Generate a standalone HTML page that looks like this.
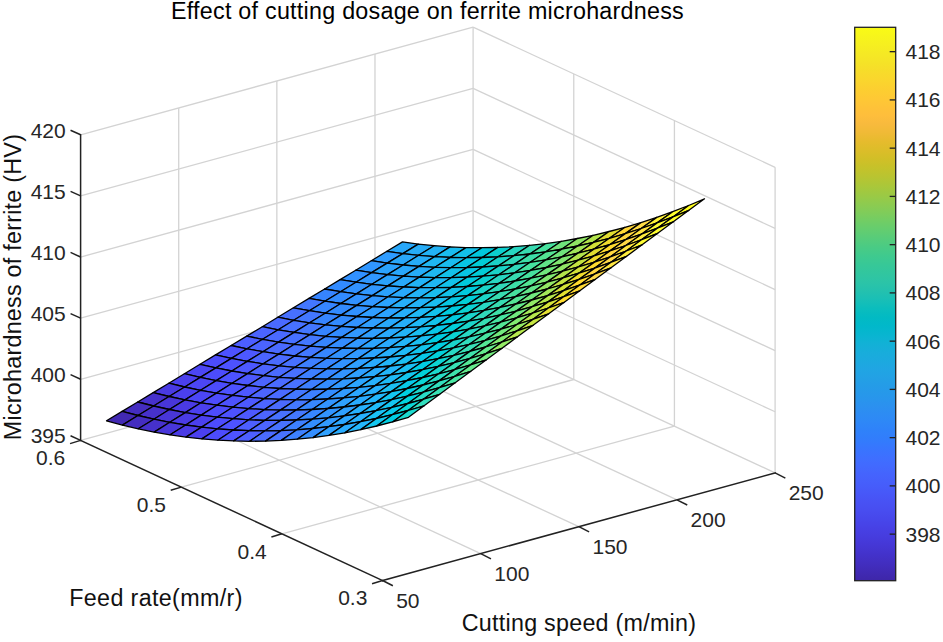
<!DOCTYPE html>
<html><head><meta charset="utf-8"><title>Effect of cutting dosage on ferrite microhardness</title>
<style>html,body{margin:0;padding:0;background:#fff;}body{width:943px;height:642px;overflow:hidden;position:relative;font-family:"Liberation Sans",sans-serif;}</style>
</head><body>
<svg width="943" height="642" viewBox="0 0 943 642" style="position:absolute;left:0;top:0">
<g stroke-linecap="butt">
<line x1="178.72" y1="413.50" x2="480.73" y2="553.60" stroke="#d3d3d3" stroke-width="1.3" />
<line x1="276.85" y1="386.60" x2="578.85" y2="526.70" stroke="#d3d3d3" stroke-width="1.3" />
<line x1="374.98" y1="359.70" x2="676.98" y2="499.80" stroke="#d3d3d3" stroke-width="1.3" />
<line x1="473.10" y1="332.80" x2="775.10" y2="472.90" stroke="#d3d3d3" stroke-width="1.3" />
<line x1="80.60" y1="440.40" x2="473.10" y2="332.80" stroke="#d3d3d3" stroke-width="1.3" />
<line x1="181.27" y1="487.10" x2="573.77" y2="379.50" stroke="#d3d3d3" stroke-width="1.3" />
<line x1="281.93" y1="533.80" x2="674.43" y2="426.20" stroke="#d3d3d3" stroke-width="1.3" />
<line x1="178.72" y1="413.50" x2="178.72" y2="107.90" stroke="#d3d3d3" stroke-width="1.3" />
<line x1="276.85" y1="386.60" x2="276.85" y2="81.00" stroke="#d3d3d3" stroke-width="1.3" />
<line x1="374.98" y1="359.70" x2="374.98" y2="54.10" stroke="#d3d3d3" stroke-width="1.3" />
<line x1="473.10" y1="332.80" x2="473.10" y2="27.20" stroke="#d3d3d3" stroke-width="1.3" />
<line x1="80.60" y1="379.28" x2="473.10" y2="271.68" stroke="#d3d3d3" stroke-width="1.3" />
<line x1="80.60" y1="318.16" x2="473.10" y2="210.56" stroke="#d3d3d3" stroke-width="1.3" />
<line x1="80.60" y1="257.04" x2="473.10" y2="149.44" stroke="#d3d3d3" stroke-width="1.3" />
<line x1="80.60" y1="195.92" x2="473.10" y2="88.32" stroke="#d3d3d3" stroke-width="1.3" />
<line x1="80.60" y1="134.80" x2="473.10" y2="27.20" stroke="#d3d3d3" stroke-width="1.3" />
<line x1="573.77" y1="379.50" x2="573.77" y2="73.90" stroke="#d3d3d3" stroke-width="1.3" />
<line x1="674.43" y1="426.20" x2="674.43" y2="120.60" stroke="#d3d3d3" stroke-width="1.3" />
<line x1="775.10" y1="472.90" x2="775.10" y2="167.30" stroke="#d3d3d3" stroke-width="1.3" />
<line x1="473.10" y1="271.68" x2="775.10" y2="411.78" stroke="#d3d3d3" stroke-width="1.3" />
<line x1="473.10" y1="210.56" x2="775.10" y2="350.66" stroke="#d3d3d3" stroke-width="1.3" />
<line x1="473.10" y1="149.44" x2="775.10" y2="289.54" stroke="#d3d3d3" stroke-width="1.3" />
<line x1="473.10" y1="88.32" x2="775.10" y2="228.42" stroke="#d3d3d3" stroke-width="1.3" />
<line x1="473.10" y1="27.20" x2="775.10" y2="167.30" stroke="#d3d3d3" stroke-width="1.3" />
</g>
<g stroke="#000" stroke-width="1.3" stroke-linejoin="round">
<polygon points="386.9,251.3 402.5,241.9 418.3,244.1 402.8,253.6" fill="#28a7f9"/>
<polygon points="371.3,260.7 386.9,251.3 402.8,253.6 387.2,263.1" fill="#2e9cff"/>
<polygon points="355.7,270.2 371.3,260.7 387.2,263.1 371.6,272.6" fill="#3096ff"/>
<polygon points="340.1,279.6 355.7,270.2 371.6,272.6 356.0,282.2" fill="#3191ff"/>
<polygon points="324.6,289.0 340.1,279.6 356.0,282.2 340.5,291.7" fill="#328bff"/>
<polygon points="309.0,298.4 324.6,289.0 340.5,291.7 324.9,301.2" fill="#3684ff"/>
<polygon points="293.4,307.8 309.0,298.4 324.9,301.2 309.3,310.7" fill="#4377ff"/>
<polygon points="277.8,317.2 293.4,307.8 309.3,310.7 293.7,320.3" fill="#4770ff"/>
<polygon points="262.3,326.7 277.8,317.2 293.7,320.3 278.2,329.8" fill="#4a6aff"/>
<polygon points="246.7,336.1 262.3,326.7 278.2,329.8 262.6,339.3" fill="#4b64ff"/>
<polygon points="231.1,345.5 246.7,336.1 262.6,339.3 247.0,348.8" fill="#4c5eff"/>
<polygon points="215.5,354.9 231.1,345.5 247.0,348.8 231.4,358.4" fill="#4d52ff"/>
<polygon points="200.0,364.3 215.5,354.9 231.4,358.4 215.9,367.9" fill="#4c4cfb"/>
<polygon points="184.4,373.7 200.0,364.3 215.9,367.9 200.3,377.4" fill="#4c46f4"/>
<polygon points="168.8,383.2 184.4,373.7 200.3,377.4 184.7,387.0" fill="#4b40ed"/>
<polygon points="153.2,392.6 168.8,383.2 184.7,387.0 169.1,396.5" fill="#493ae3"/>
<polygon points="137.7,402.0 153.2,392.6 169.1,396.5 153.6,406.0" fill="#4631cc"/>
<polygon points="122.1,411.4 137.7,402.0 153.6,406.0 138.0,415.5" fill="#442dc0"/>
<polygon points="106.5,420.8 122.1,411.4 138.0,415.5 122.4,425.1" fill="#4229b3"/>
<polygon points="402.8,253.6 418.3,244.1 434.2,245.7 418.7,255.3" fill="#26acf6"/>
<polygon points="387.2,263.1 402.8,253.6 418.7,255.3 403.1,265.0" fill="#28a7f9"/>
<polygon points="371.6,272.6 387.2,263.1 403.1,265.0 387.5,274.6" fill="#2aa2fd"/>
<polygon points="356.0,282.2 371.6,272.6 387.5,274.6 371.9,284.3" fill="#3097ff"/>
<polygon points="340.5,291.7 356.0,282.2 371.9,284.3 356.4,293.9" fill="#3191ff"/>
<polygon points="324.9,301.2 340.5,291.7 356.4,293.9 340.8,303.5" fill="#328bff"/>
<polygon points="309.3,310.7 324.9,301.2 340.8,303.5 325.2,313.2" fill="#3685ff"/>
<polygon points="293.7,320.3 309.3,310.7 325.2,313.2 309.6,322.8" fill="#4377ff"/>
<polygon points="278.2,329.8 293.7,320.3 309.6,322.8 294.1,332.4" fill="#4771ff"/>
<polygon points="262.6,339.3 278.2,329.8 294.1,332.4 278.5,342.1" fill="#4a6aff"/>
<polygon points="247.0,348.8 262.6,339.3 278.5,342.1 262.9,351.7" fill="#4b64ff"/>
<polygon points="231.4,358.4 247.0,348.8 262.9,351.7 247.3,361.4" fill="#4d58ff"/>
<polygon points="215.9,367.9 231.4,358.4 247.3,361.4 231.8,371.0" fill="#4d52ff"/>
<polygon points="200.3,377.4 215.9,367.9 231.8,371.0 216.2,380.6" fill="#4c4cfb"/>
<polygon points="184.7,387.0 200.3,377.4 216.2,380.6 200.6,390.3" fill="#4c46f5"/>
<polygon points="169.1,396.5 184.7,387.0 200.6,390.3 185.0,399.9" fill="#4b40ed"/>
<polygon points="153.6,406.0 169.1,396.5 185.0,399.9 169.4,409.5" fill="#4836d8"/>
<polygon points="138.0,415.5 153.6,406.0 169.4,409.5 153.9,419.2" fill="#4631cc"/>
<polygon points="122.4,425.1 138.0,415.5 153.9,419.2 138.3,428.8" fill="#442dc0"/>
<polygon points="418.7,255.3 434.2,245.7 450.1,246.9 434.6,256.6" fill="#22b2f5"/>
<polygon points="403.1,265.0 418.7,255.3 434.6,256.6 419.0,266.4" fill="#26adf7"/>
<polygon points="387.5,274.6 403.1,265.0 419.0,266.4 403.4,276.1" fill="#28a7fa"/>
<polygon points="371.9,284.3 387.5,274.6 403.4,276.1 387.8,285.9" fill="#2aa2fd"/>
<polygon points="356.4,293.9 371.9,284.3 387.8,285.9 372.3,295.6" fill="#3097ff"/>
<polygon points="340.8,303.5 356.4,293.9 372.3,295.6 356.7,305.4" fill="#3191ff"/>
<polygon points="325.2,313.2 340.8,303.5 356.7,305.4 341.1,315.1" fill="#328bff"/>
<polygon points="309.6,322.8 325.2,313.2 341.1,315.1 325.5,324.8" fill="#3685ff"/>
<polygon points="294.1,332.4 309.6,322.8 325.5,324.8 309.9,334.6" fill="#4377ff"/>
<polygon points="278.5,342.1 294.1,332.4 309.9,334.6 294.4,344.3" fill="#4771ff"/>
<polygon points="262.9,351.7 278.5,342.1 294.4,344.3 278.8,354.1" fill="#4a6aff"/>
<polygon points="247.3,361.4 262.9,351.7 278.8,354.1 263.2,363.8" fill="#4b64ff"/>
<polygon points="231.8,371.0 247.3,361.4 263.2,363.8 247.6,373.6" fill="#4d58ff"/>
<polygon points="216.2,380.6 231.8,371.0 247.6,373.6 232.1,383.3" fill="#4d52ff"/>
<polygon points="200.6,390.3 216.2,380.6 232.1,383.3 216.5,393.1" fill="#4c4cfb"/>
<polygon points="185.0,399.9 200.6,390.3 216.5,393.1 200.9,402.8" fill="#4c46f5"/>
<polygon points="169.4,409.5 185.0,399.9 200.9,402.8 185.3,412.6" fill="#4a3ae4"/>
<polygon points="153.9,419.2 169.4,409.5 185.3,412.6 169.8,422.3" fill="#4836d8"/>
<polygon points="138.3,428.8 153.9,419.2 169.8,422.3 154.2,432.1" fill="#4631cc"/>
<polygon points="434.6,256.6 450.1,246.9 466.0,247.6 450.5,257.4" fill="#1abcee"/>
<polygon points="419.0,266.4 434.6,256.6 450.5,257.4 434.9,267.3" fill="#1fb7f2"/>
<polygon points="403.4,276.1 419.0,266.4 434.9,267.3 419.3,277.1" fill="#26adf7"/>
<polygon points="387.8,285.9 403.4,276.1 419.3,277.1 403.7,287.0" fill="#28a8fa"/>
<polygon points="372.3,295.6 387.8,285.9 403.7,287.0 388.1,296.8" fill="#2aa2fe"/>
<polygon points="356.7,305.4 372.3,295.6 388.1,296.8 372.6,306.7" fill="#3197ff"/>
<polygon points="341.1,315.1 356.7,305.4 372.6,306.7 357.0,316.5" fill="#3191ff"/>
<polygon points="325.5,324.8 341.1,315.1 357.0,316.5 341.4,326.4" fill="#328bff"/>
<polygon points="309.9,334.6 325.5,324.8 341.4,326.4 325.8,336.3" fill="#3685ff"/>
<polygon points="294.4,344.3 309.9,334.6 325.8,336.3 310.3,346.1" fill="#4378ff"/>
<polygon points="278.8,354.1 294.4,344.3 310.3,346.1 294.7,356.0" fill="#4771ff"/>
<polygon points="263.2,363.8 278.8,354.1 294.7,356.0 279.1,365.8" fill="#4a6bff"/>
<polygon points="247.6,373.6 263.2,363.8 279.1,365.8 263.5,375.7" fill="#4c64ff"/>
<polygon points="232.1,383.3 247.6,373.6 263.5,375.7 248.0,385.5" fill="#4d58ff"/>
<polygon points="216.5,393.1 232.1,383.3 248.0,385.5 232.4,395.4" fill="#4d52ff"/>
<polygon points="200.9,402.8 216.5,393.1 232.4,395.4 216.8,405.2" fill="#4d4cfc"/>
<polygon points="185.3,412.6 200.9,402.8 216.8,405.2 201.2,415.1" fill="#4b40ee"/>
<polygon points="169.8,422.3 185.3,412.6 201.2,415.1 185.7,425.0" fill="#4a3be4"/>
<polygon points="154.2,432.1 169.8,422.3 185.7,425.0 170.1,434.8" fill="#4836d9"/>
<polygon points="450.5,257.4 466.0,247.6 481.9,247.7 466.3,257.7" fill="#13c1e9"/>
<polygon points="434.9,267.3 450.5,257.4 466.3,257.7 450.8,267.7" fill="#1abcee"/>
<polygon points="419.3,277.1 434.9,267.3 450.8,267.7 435.2,277.6" fill="#1fb8f2"/>
<polygon points="403.7,287.0 419.3,277.1 435.2,277.6 419.6,287.6" fill="#22b3f6"/>
<polygon points="388.1,296.8 403.7,287.0 419.6,287.6 404.0,297.6" fill="#28a8fb"/>
<polygon points="372.6,306.7 388.1,296.8 404.0,297.6 388.5,307.5" fill="#2aa3fe"/>
<polygon points="357.0,316.5 372.6,306.7 388.5,307.5 372.9,317.5" fill="#2f9dff"/>
<polygon points="341.4,326.4 357.0,316.5 372.9,317.5 357.3,327.5" fill="#3192ff"/>
<polygon points="325.8,336.3 341.4,326.4 357.3,327.5 341.7,337.4" fill="#328cff"/>
<polygon points="310.3,346.1 325.8,336.3 341.7,337.4 326.2,347.4" fill="#3685ff"/>
<polygon points="294.7,356.0 310.3,346.1 326.2,347.4 310.6,357.4" fill="#4378ff"/>
<polygon points="279.1,365.8 294.7,356.0 310.6,357.4 295.0,367.3" fill="#4771ff"/>
<polygon points="263.5,375.7 279.1,365.8 295.0,367.3 279.4,377.3" fill="#4a6bff"/>
<polygon points="248.0,385.5 263.5,375.7 279.4,377.3 263.9,387.3" fill="#4c65ff"/>
<polygon points="232.4,395.4 248.0,385.5 263.9,387.3 248.3,397.2" fill="#4d58ff"/>
<polygon points="216.8,405.2 232.4,395.4 248.3,397.2 232.7,407.2" fill="#4d52ff"/>
<polygon points="201.2,415.1 216.8,405.2 232.7,407.2 217.1,417.2" fill="#4d4cfc"/>
<polygon points="185.7,425.0 201.2,415.1 217.1,417.2 201.6,427.1" fill="#4b40ee"/>
<polygon points="170.1,434.8 185.7,425.0 201.6,427.1 186.0,437.1" fill="#4a3be5"/>
<polygon points="466.3,257.7 481.9,247.7 497.8,247.4 482.2,257.5" fill="#01c8dc"/>
<polygon points="450.8,267.7 466.3,257.7 482.2,257.5 466.7,267.6" fill="#08c5e3"/>
<polygon points="435.2,277.6 450.8,267.7 466.7,267.6 451.1,277.7" fill="#13c1e9"/>
<polygon points="419.6,287.6 435.2,277.6 451.1,277.7 435.5,287.7" fill="#1fb8f3"/>
<polygon points="404.0,297.6 419.6,287.6 435.5,287.7 419.9,297.8" fill="#23b3f6"/>
<polygon points="388.5,307.5 404.0,297.6 419.9,297.8 404.4,307.9" fill="#26aef8"/>
<polygon points="372.9,317.5 388.5,307.5 404.4,307.9 388.8,318.0" fill="#2ba3ff"/>
<polygon points="357.3,327.5 372.9,317.5 388.8,318.0 373.2,328.0" fill="#2f9eff"/>
<polygon points="341.7,337.4 357.3,327.5 373.2,328.0 357.6,338.1" fill="#3198ff"/>
<polygon points="326.2,347.4 341.7,337.4 357.6,338.1 342.1,348.2" fill="#338cff"/>
<polygon points="310.6,357.4 326.2,347.4 342.1,348.2 326.5,358.3" fill="#3686ff"/>
<polygon points="295.0,367.3 310.6,357.4 326.5,358.3 310.9,368.3" fill="#3d7fff"/>
<polygon points="279.4,377.3 295.0,367.3 310.9,368.3 295.3,378.4" fill="#4871ff"/>
<polygon points="263.9,387.3 279.4,377.3 295.3,378.4 279.8,388.5" fill="#4a6bff"/>
<polygon points="248.3,397.2 263.9,387.3 279.8,388.5 264.2,398.6" fill="#4c65ff"/>
<polygon points="232.7,407.2 248.3,397.2 264.2,398.6 248.6,408.6" fill="#4d59ff"/>
<polygon points="217.1,417.2 232.7,407.2 248.6,408.6 233.0,418.7" fill="#4d52ff"/>
<polygon points="201.6,427.1 217.1,417.2 233.0,418.7 217.4,428.8" fill="#4d4cfd"/>
<polygon points="186.0,437.1 201.6,427.1 217.4,428.8 201.9,438.9" fill="#4b40ef"/>
<polygon points="482.2,257.5 497.8,247.4 513.7,246.6 498.1,256.8" fill="#0ccfce"/>
<polygon points="466.7,267.6 482.2,257.5 498.1,256.8 482.6,267.0" fill="#02ccd6"/>
<polygon points="451.1,277.7 466.7,267.6 482.6,267.0 467.0,277.2" fill="#08c5e3"/>
<polygon points="435.5,287.7 451.1,277.7 467.0,277.2 451.4,287.4" fill="#13c1ea"/>
<polygon points="419.9,297.8 435.5,287.7 451.4,287.4 435.8,297.6" fill="#1abdef"/>
<polygon points="404.4,307.9 419.9,297.8 435.8,297.6 420.3,307.7" fill="#23b3f7"/>
<polygon points="388.8,318.0 404.4,307.9 420.3,307.7 404.7,317.9" fill="#26aef9"/>
<polygon points="373.2,328.0 388.8,318.0 404.7,317.9 389.1,328.1" fill="#28a9fc"/>
<polygon points="357.6,338.1 373.2,328.0 389.1,328.1 373.5,338.3" fill="#2f9eff"/>
<polygon points="342.1,348.2 357.6,338.1 373.5,338.3 358.0,348.5" fill="#3198ff"/>
<polygon points="326.5,358.3 342.1,348.2 358.0,348.5 342.4,358.7" fill="#3192ff"/>
<polygon points="310.9,368.3 326.5,358.3 342.4,358.7 326.8,368.9" fill="#3686ff"/>
<polygon points="295.3,378.4 310.9,368.3 326.8,368.9 311.2,379.0" fill="#3d7fff"/>
<polygon points="279.8,388.5 295.3,378.4 311.2,379.0 295.6,389.2" fill="#4872ff"/>
<polygon points="264.2,398.6 279.8,388.5 295.6,389.2 280.1,399.4" fill="#4a6bff"/>
<polygon points="248.6,408.6 264.2,398.6 280.1,399.4 264.5,409.6" fill="#4c65ff"/>
<polygon points="233.0,418.7 248.6,408.6 264.5,409.6 248.9,419.8" fill="#4d59ff"/>
<polygon points="217.4,428.8 233.0,418.7 248.9,419.8 233.3,430.0" fill="#4d53ff"/>
<polygon points="201.9,438.9 217.4,428.8 233.3,430.0 217.8,440.2" fill="#4d4cfd"/>
<polygon points="498.1,256.8 513.7,246.6 529.6,245.3 514.0,255.6" fill="#27d5c0"/>
<polygon points="482.6,267.0 498.1,256.8 514.0,255.6 498.5,265.9" fill="#1bd2c7"/>
<polygon points="467.0,277.2 482.6,267.0 498.5,265.9 482.9,276.2" fill="#02ccd6"/>
<polygon points="451.4,287.4 467.0,277.2 482.9,276.2 467.3,286.5" fill="#01c9dd"/>
<polygon points="435.8,297.6 451.4,287.4 467.3,286.5 451.7,296.8" fill="#13c2ea"/>
<polygon points="420.3,307.7 435.8,297.6 451.7,296.8 436.2,307.1" fill="#1bbdf0"/>
<polygon points="404.7,317.9 420.3,307.7 436.2,307.1 420.6,317.4" fill="#1fb9f4"/>
<polygon points="389.1,328.1 404.7,317.9 420.6,317.4 405.0,327.7" fill="#26affa"/>
<polygon points="373.5,338.3 389.1,328.1 405.0,327.7 389.4,338.0" fill="#29a9fc"/>
<polygon points="358.0,348.5 373.5,338.3 389.4,338.0 373.8,348.3" fill="#2ba4ff"/>
<polygon points="342.4,358.7 358.0,348.5 373.8,348.3 358.3,358.6" fill="#3199ff"/>
<polygon points="326.8,368.9 342.4,358.7 358.3,358.6 342.7,368.9" fill="#3193ff"/>
<polygon points="311.2,379.0 326.8,368.9 342.7,368.9 327.1,379.2" fill="#3686ff"/>
<polygon points="295.6,389.2 311.2,379.0 327.1,379.2 311.5,389.5" fill="#3d7fff"/>
<polygon points="280.1,399.4 295.6,389.2 311.5,389.5 296.0,399.8" fill="#4378ff"/>
<polygon points="264.5,409.6 280.1,399.4 296.0,399.8 280.4,410.1" fill="#4b6bff"/>
<polygon points="248.9,419.8 264.5,409.6 280.4,410.1 264.8,420.4" fill="#4c65ff"/>
<polygon points="233.3,430.0 248.9,419.8 264.8,420.4 249.2,430.7" fill="#4d5fff"/>
<polygon points="217.8,440.2 233.3,430.0 249.2,430.7 233.7,440.9" fill="#4d53ff"/>
<polygon points="514.0,255.6 529.6,245.3 545.5,243.6 529.9,254.0" fill="#37dab0"/>
<polygon points="498.5,265.9 514.0,255.6 529.9,254.0 514.4,264.4" fill="#30d8b8"/>
<polygon points="482.9,276.2 498.5,265.9 514.4,264.4 498.8,274.8" fill="#1bd3c8"/>
<polygon points="467.3,286.5 482.9,276.2 498.8,274.8 483.2,285.2" fill="#0cd0cf"/>
<polygon points="451.7,296.8 467.3,286.5 483.2,285.2 467.6,295.6" fill="#01cade"/>
<polygon points="436.2,307.1 451.7,296.8 467.6,295.6 452.0,306.0" fill="#08c6e4"/>
<polygon points="420.6,317.4 436.2,307.1 452.0,306.0 436.5,316.4" fill="#13c2eb"/>
<polygon points="405.0,327.7 420.6,317.4 436.5,316.4 420.9,326.8" fill="#1fb9f5"/>
<polygon points="389.4,338.0 405.0,327.7 420.9,326.8 405.3,337.2" fill="#23b4f8"/>
<polygon points="373.8,348.3 389.4,338.0 405.3,337.2 389.7,347.6" fill="#29aafd"/>
<polygon points="358.3,358.6 373.8,348.3 389.7,347.6 374.2,358.0" fill="#2ba4ff"/>
<polygon points="342.7,368.9 358.3,358.6 374.2,358.0 358.6,368.4" fill="#2f9fff"/>
<polygon points="327.1,379.2 342.7,368.9 358.6,368.4 343.0,378.8" fill="#3293ff"/>
<polygon points="311.5,389.5 327.1,379.2 343.0,378.8 327.4,389.2" fill="#338dff"/>
<polygon points="296.0,399.8 311.5,389.5 327.4,389.2 311.9,399.6" fill="#3d80ff"/>
<polygon points="280.4,410.1 296.0,399.8 311.9,399.6 296.3,410.0" fill="#4479ff"/>
<polygon points="264.8,420.4 280.4,410.1 296.3,410.0 280.7,420.4" fill="#4872ff"/>
<polygon points="249.2,430.7 264.8,420.4 280.7,420.4 265.1,430.8" fill="#4c65ff"/>
<polygon points="233.7,440.9 249.2,430.7 265.1,430.8 249.6,441.3" fill="#4d5fff"/>
<polygon points="529.9,254.0 545.5,243.6 561.4,241.3 545.8,251.8" fill="#46e09d"/>
<polygon points="514.4,264.4 529.9,254.0 545.8,251.8 530.2,262.3" fill="#3ddea7"/>
<polygon points="498.8,274.8 514.4,264.4 530.2,262.3 514.7,272.8" fill="#30d8b9"/>
<polygon points="483.2,285.2 498.8,274.8 514.7,272.8 499.1,283.4" fill="#28d6c1"/>
<polygon points="467.6,295.6 483.2,285.2 499.1,283.4 483.5,293.9" fill="#1bd3c8"/>
<polygon points="452.0,306.0 467.6,295.6 483.5,293.9 467.9,304.4" fill="#02ced7"/>
<polygon points="436.5,316.4 452.0,306.0 467.9,304.4 452.4,314.9" fill="#01cade"/>
<polygon points="420.9,326.8 436.5,316.4 452.4,314.9 436.8,325.4" fill="#13c3eb"/>
<polygon points="405.3,337.2 420.9,326.8 436.8,325.4 421.2,335.9" fill="#1bbef1"/>
<polygon points="389.7,347.6 405.3,337.2 421.2,335.9 405.6,346.4" fill="#23b5f8"/>
<polygon points="374.2,358.0 389.7,347.6 405.6,346.4 390.1,357.0" fill="#27affb"/>
<polygon points="358.6,368.4 374.2,358.0 390.1,357.0 374.5,367.5" fill="#29aafd"/>
<polygon points="343.0,378.8 358.6,368.4 374.5,367.5 358.9,378.0" fill="#2f9fff"/>
<polygon points="327.4,389.2 343.0,378.8 358.9,378.0 343.3,388.5" fill="#3199ff"/>
<polygon points="311.9,399.6 327.4,389.2 343.3,388.5 327.8,399.0" fill="#338dff"/>
<polygon points="296.3,410.0 311.9,399.6 327.8,399.0 312.2,409.5" fill="#3787ff"/>
<polygon points="280.7,420.4 296.3,410.0 312.2,409.5 296.6,420.0" fill="#4479ff"/>
<polygon points="265.1,430.8 280.7,420.4 296.6,420.0 281.0,430.6" fill="#4872ff"/>
<polygon points="249.6,441.3 265.1,430.8 281.0,430.6 265.5,441.1" fill="#4b6cff"/>
<polygon points="545.8,251.8 561.4,241.3 577.3,238.5 561.7,249.2" fill="#6fe47c"/>
<polygon points="530.2,262.3 545.8,251.8 561.7,249.2 546.1,259.8" fill="#53e293"/>
<polygon points="514.7,272.8 530.2,262.3 546.1,259.8 530.6,270.4" fill="#46e19e"/>
<polygon points="499.1,283.4 514.7,272.8 530.6,270.4 515.0,281.0" fill="#37dcb1"/>
<polygon points="483.5,293.9 499.1,283.4 515.0,281.0 499.4,291.7" fill="#31d9b9"/>
<polygon points="467.9,304.4 483.5,293.9 499.4,291.7 483.8,302.3" fill="#1bd4c9"/>
<polygon points="452.4,314.9 467.9,304.4 483.8,302.3 468.3,312.9" fill="#0cd1d1"/>
<polygon points="436.8,325.4 452.4,314.9 468.3,312.9 452.7,323.5" fill="#01cbdf"/>
<polygon points="421.2,335.9 436.8,325.4 452.7,323.5 437.1,334.2" fill="#08c7e6"/>
<polygon points="405.6,346.4 421.2,335.9 437.1,334.2 421.5,344.8" fill="#1bbff2"/>
<polygon points="390.1,357.0 405.6,346.4 421.5,344.8 406.0,355.4" fill="#1fbaf6"/>
<polygon points="374.5,367.5 390.1,357.0 406.0,355.4 390.4,366.0" fill="#23b5f9"/>
<polygon points="358.9,378.0 374.5,367.5 390.4,366.0 374.8,376.6" fill="#29abfe"/>
<polygon points="343.3,388.5 358.9,378.0 374.8,376.6 359.2,387.3" fill="#2ba5ff"/>
<polygon points="327.8,399.0 343.3,388.5 359.2,387.3 343.7,397.9" fill="#319aff"/>
<polygon points="312.2,409.5 327.8,399.0 343.7,397.9 328.1,408.5" fill="#3294ff"/>
<polygon points="296.6,420.0 312.2,409.5 328.1,408.5 312.5,419.1" fill="#3787ff"/>
<polygon points="281.0,430.6 296.6,420.0 312.5,419.1 296.9,429.8" fill="#3d80ff"/>
<polygon points="265.5,441.1 281.0,430.6 296.9,429.8 281.3,440.4" fill="#4873ff"/>
<polygon points="561.7,249.2 577.3,238.5 593.2,235.3 577.6,246.0" fill="#90e564"/>
<polygon points="546.1,259.8 561.7,249.2 577.6,246.0 562.0,256.8" fill="#70e57c"/>
<polygon points="530.6,270.4 546.1,259.8 562.0,256.8 546.5,267.5" fill="#61e489"/>
<polygon points="515.0,281.0 530.6,270.4 546.5,267.5 530.9,278.2" fill="#46e19e"/>
<polygon points="499.4,291.7 515.0,281.0 530.9,278.2 515.3,289.0" fill="#3ddfa8"/>
<polygon points="483.8,302.3 499.4,291.7 515.3,289.0 499.7,299.7" fill="#37dcb1"/>
<polygon points="468.3,312.9 483.8,302.3 499.7,299.7 484.2,310.4" fill="#28d7c2"/>
<polygon points="452.7,323.5 468.3,312.9 484.2,310.4 468.6,321.2" fill="#1bd4ca"/>
<polygon points="437.1,334.2 452.7,323.5 468.6,321.2 453.0,331.9" fill="#02cfd8"/>
<polygon points="421.5,344.8 437.1,334.2 453.0,331.9 437.4,342.6" fill="#01cbdf"/>
<polygon points="406.0,355.4 421.5,344.8 437.4,342.6 421.9,353.4" fill="#13c4ed"/>
<polygon points="390.4,366.0 406.0,355.4 421.9,353.4 406.3,364.1" fill="#1bbff2"/>
<polygon points="374.8,376.6 390.4,366.0 406.3,364.1 390.7,374.8" fill="#23b6fa"/>
<polygon points="359.2,387.3 374.8,376.6 390.7,374.8 375.1,385.6" fill="#27b0fc"/>
<polygon points="343.7,397.9 359.2,387.3 375.1,385.6 359.5,396.3" fill="#2ba6ff"/>
<polygon points="328.1,408.5 343.7,397.9 359.5,396.3 344.0,407.0" fill="#2fa0ff"/>
<polygon points="312.5,419.1 328.1,408.5 344.0,407.0 328.4,417.8" fill="#3294ff"/>
<polygon points="296.9,429.8 312.5,419.1 328.4,417.8 312.8,428.5" fill="#338eff"/>
<polygon points="281.3,440.4 296.9,429.8 312.8,428.5 297.2,439.2" fill="#3e81ff"/>
<polygon points="577.6,246.0 593.2,235.3 609.1,231.5 593.5,242.4" fill="#b2e34b"/>
<polygon points="562.0,256.8 577.6,246.0 593.5,242.4 577.9,253.2" fill="#a1e458"/>
<polygon points="546.5,267.5 562.0,256.8 577.9,253.2 562.4,264.1" fill="#80e670"/>
<polygon points="530.9,278.2 546.5,267.5 562.4,264.1 546.8,274.9" fill="#70e67d"/>
<polygon points="515.3,289.0 530.9,278.2 546.8,274.9 531.2,285.8" fill="#53e494"/>
<polygon points="499.7,299.7 515.3,289.0 531.2,285.8 515.6,296.6" fill="#47e29f"/>
<polygon points="484.2,310.4 499.7,299.7 515.6,296.6 500.0,307.4" fill="#37ddb2"/>
<polygon points="468.6,321.2 484.2,310.4 500.0,307.4 484.5,318.3" fill="#31daba"/>
<polygon points="453.0,331.9 468.6,321.2 484.5,318.3 468.9,329.1" fill="#1bd5ca"/>
<polygon points="437.4,342.6 453.0,331.9 468.9,329.1 453.3,340.0" fill="#0cd2d2"/>
<polygon points="421.9,353.4 437.4,342.6 453.3,340.0 437.7,350.8" fill="#01cce0"/>
<polygon points="406.3,364.1 421.9,353.4 437.7,350.8 422.2,361.7" fill="#08c8e7"/>
<polygon points="390.7,374.8 406.3,364.1 422.2,361.7 406.6,372.5" fill="#1bc0f3"/>
<polygon points="375.1,385.6 390.7,374.8 406.6,372.5 391.0,383.3" fill="#1fbbf7"/>
<polygon points="359.5,396.3 375.1,385.6 391.0,383.3 375.4,394.2" fill="#27b1fd"/>
<polygon points="344.0,407.0 359.5,396.3 375.4,394.2 359.9,405.0" fill="#29abff"/>
<polygon points="328.4,417.8 344.0,407.0 359.9,405.0 344.3,415.9" fill="#2fa0ff"/>
<polygon points="312.8,428.5 328.4,417.8 344.3,415.9 328.7,426.7" fill="#329aff"/>
<polygon points="297.2,439.2 312.8,428.5 328.7,426.7 313.1,437.6" fill="#338eff"/>
<polygon points="593.5,242.4 609.1,231.5 625.0,227.3 609.4,238.3" fill="#e0dc30"/>
<polygon points="577.9,253.2 593.5,242.4 609.4,238.3 593.8,249.2" fill="#d2df37"/>
<polygon points="562.4,264.1 577.9,253.2 593.8,249.2 578.2,260.2" fill="#b2e34b"/>
<polygon points="546.8,274.9 562.4,264.1 578.2,260.2 562.7,271.1" fill="#91e664"/>
<polygon points="531.2,285.8 546.8,274.9 562.7,271.1 547.1,282.1" fill="#80e770"/>
<polygon points="515.6,296.6 531.2,285.8 547.1,282.1 531.5,293.0" fill="#62e68a"/>
<polygon points="500.0,307.4 515.6,296.6 531.5,293.0 515.9,304.0" fill="#53e595"/>
<polygon points="484.5,318.3 500.0,307.4 515.9,304.0 500.4,314.9" fill="#3ee0aa"/>
<polygon points="468.9,329.1 484.5,318.3 500.4,314.9 484.8,325.9" fill="#37deb3"/>
<polygon points="453.3,340.0 468.9,329.1 484.8,325.9 469.2,336.8" fill="#28d8c3"/>
<polygon points="437.7,350.8 453.3,340.0 469.2,336.8 453.6,347.8" fill="#1bd6cb"/>
<polygon points="422.2,361.7 437.7,350.8 453.6,347.8 438.1,358.7" fill="#02d0da"/>
<polygon points="406.6,372.5 422.2,361.7 438.1,358.7 422.5,369.7" fill="#01cde1"/>
<polygon points="391.0,383.3 406.6,372.5 422.5,369.7 406.9,380.6" fill="#14c5ee"/>
<polygon points="375.4,394.2 391.0,383.3 406.9,380.6 391.3,391.6" fill="#1bc0f3"/>
<polygon points="359.9,405.0 375.4,394.2 391.3,391.6 375.8,402.6" fill="#23b7fb"/>
<polygon points="344.3,415.9 359.9,405.0 375.8,402.6 360.2,413.5" fill="#27b1fd"/>
<polygon points="328.7,426.7 344.3,415.9 360.2,413.5 344.6,424.5" fill="#2ba6ff"/>
<polygon points="313.1,437.6 328.7,426.7 344.6,424.5 329.0,435.4" fill="#30a1ff"/>
<polygon points="609.4,238.3 625.0,227.3 640.9,222.6 625.3,233.6" fill="#ffd634"/>
<polygon points="593.8,249.2 609.4,238.3 625.3,233.6 609.7,244.7" fill="#efdb2d"/>
<polygon points="578.2,260.2 593.8,249.2 609.7,244.7 594.1,255.8" fill="#e1dd30"/>
<polygon points="562.7,271.1 578.2,260.2 594.1,255.8 578.6,266.8" fill="#c3e241"/>
<polygon points="547.1,282.1 562.7,271.1 578.6,266.8 563.0,277.9" fill="#b3e44c"/>
<polygon points="531.5,293.0 547.1,282.1 563.0,277.9 547.4,289.0" fill="#92e765"/>
<polygon points="515.9,304.0 531.5,293.0 547.4,289.0 531.8,300.0" fill="#71e87e"/>
<polygon points="500.4,314.9 515.9,304.0 531.8,300.0 516.3,311.1" fill="#62e78a"/>
<polygon points="484.8,325.9 500.4,314.9 516.3,311.1 500.7,322.1" fill="#47e4a0"/>
<polygon points="469.2,336.8 484.8,325.9 500.7,322.1 485.1,333.2" fill="#3ee1aa"/>
<polygon points="453.6,347.8 469.2,336.8 485.1,333.2 469.5,344.3" fill="#31dcbc"/>
<polygon points="438.1,358.7 453.6,347.8 469.5,344.3 454.0,355.3" fill="#28d9c4"/>
<polygon points="422.5,369.7 438.1,358.7 454.0,355.3 438.4,366.4" fill="#0cd4d3"/>
<polygon points="406.9,380.6 422.5,369.7 438.4,366.4 422.8,377.5" fill="#02d0da"/>
<polygon points="391.3,391.6 406.9,380.6 422.8,377.5 407.2,388.5" fill="#08cae8"/>
<polygon points="375.8,402.6 391.3,391.6 407.2,388.5 391.7,399.6" fill="#14c5ef"/>
<polygon points="360.2,413.5 375.8,402.6 391.7,399.6 376.1,410.6" fill="#20bcf9"/>
<polygon points="344.6,424.5 360.2,413.5 376.1,410.6 360.5,421.7" fill="#27b2fe"/>
<polygon points="329.0,435.4 344.6,424.5 360.5,421.7 344.9,432.8" fill="#29acff"/>
<polygon points="625.3,233.6 640.9,222.6 656.8,217.4 641.2,228.5" fill="#ffdb46"/>
<polygon points="609.7,244.7 625.3,233.6 641.2,228.5 625.6,239.7" fill="#ffd63e"/>
<polygon points="594.1,255.8 609.7,244.7 625.6,239.7 610.0,250.9" fill="#fdd92f"/>
<polygon points="578.6,266.8 594.1,255.8 610.0,250.9 594.5,262.1" fill="#f0db2d"/>
<polygon points="563.0,277.9 578.6,266.8 594.5,262.1 578.9,273.2" fill="#d3e138"/>
<polygon points="547.4,289.0 563.0,277.9 578.9,273.2 563.3,284.4" fill="#c4e341"/>
<polygon points="531.8,300.0 547.4,289.0 563.3,284.4 547.7,295.6" fill="#a3e759"/>
<polygon points="516.3,311.1 531.8,300.0 547.7,295.6 532.2,306.7" fill="#92e865"/>
<polygon points="500.7,322.1 516.3,311.1 532.2,306.7 516.6,317.9" fill="#71e87e"/>
<polygon points="485.1,333.2 500.7,322.1 516.6,317.9 501.0,329.1" fill="#54e696"/>
<polygon points="469.5,344.3 485.1,333.2 501.0,329.1 485.4,340.3" fill="#47e4a1"/>
<polygon points="454.0,355.3 469.5,344.3 485.4,340.3 469.9,351.4" fill="#38dfb4"/>
<polygon points="438.4,366.4 454.0,355.3 469.9,351.4 454.3,362.6" fill="#31dcbc"/>
<polygon points="422.8,377.5 438.4,366.4 454.3,362.6 438.7,373.8" fill="#1cd7cc"/>
<polygon points="407.2,388.5 422.8,377.5 438.7,373.8 423.1,385.0" fill="#0cd4d4"/>
<polygon points="391.7,399.6 407.2,388.5 423.1,385.0 407.5,396.1" fill="#01cee2"/>
<polygon points="376.1,410.6 391.7,399.6 407.5,396.1 392.0,407.3" fill="#14c6f0"/>
<polygon points="360.5,421.7 376.1,410.6 392.0,407.3 376.4,418.5" fill="#1bc2f5"/>
<polygon points="344.9,432.8 360.5,421.7 376.4,418.5 360.8,429.6" fill="#24b8fd"/>
<polygon points="641.2,228.5 656.8,217.4 672.7,211.7 657.1,222.9" fill="#fff238"/>
<polygon points="625.6,239.7 641.2,228.5 657.1,222.9 641.5,234.2" fill="#ffe341"/>
<polygon points="610.0,250.9 625.6,239.7 641.5,234.2 625.9,245.5" fill="#ffd847"/>
<polygon points="594.5,262.1 610.0,250.9 625.9,245.5 610.4,256.8" fill="#ffd73e"/>
<polygon points="578.9,273.2 594.5,262.1 610.4,256.8 594.8,268.1" fill="#feda2f"/>
<polygon points="563.3,284.4 578.9,273.2 594.8,268.1 579.2,279.3" fill="#f1dc2d"/>
<polygon points="547.7,295.6 563.3,284.4 579.2,279.3 563.6,290.6" fill="#d4e238"/>
<polygon points="532.2,306.7 547.7,295.6 563.6,290.6 548.1,301.9" fill="#b5e64c"/>
<polygon points="516.6,317.9 532.2,306.7 548.1,301.9 532.5,313.2" fill="#a4e859"/>
<polygon points="501.0,329.1 516.6,317.9 532.5,313.2 516.9,324.5" fill="#82ea72"/>
<polygon points="485.4,340.3 501.0,329.1 516.9,324.5 501.3,335.8" fill="#72e97e"/>
<polygon points="469.9,351.4 485.4,340.3 501.3,335.8 485.7,347.0" fill="#54e796"/>
<polygon points="454.3,362.6 469.9,351.4 485.7,347.0 470.2,358.3" fill="#3fe3ab"/>
<polygon points="438.7,373.8 454.3,362.6 470.2,358.3 454.6,369.6" fill="#38e0b4"/>
<polygon points="423.1,385.0 438.7,373.8 454.6,369.6 439.0,380.9" fill="#29dbc5"/>
<polygon points="407.5,396.1 423.1,385.0 439.0,380.9 423.4,392.2" fill="#1cd8cd"/>
<polygon points="392.0,407.3 407.5,396.1 423.4,392.2 407.9,403.5" fill="#02d2dc"/>
<polygon points="376.4,418.5 392.0,407.3 407.9,403.5 392.3,414.7" fill="#09cbea"/>
<polygon points="360.8,429.6 376.4,418.5 392.3,414.7 376.7,426.0" fill="#14c7f0"/>
<polygon points="657.1,222.9 672.7,211.7 688.6,205.5 673.0,216.9" fill="#ffff2e"/>
<polygon points="641.5,234.2 657.1,222.9 673.0,216.9 657.4,228.2" fill="#fffc35"/>
<polygon points="625.9,245.5 641.5,234.2 657.4,228.2 641.8,239.6" fill="#ffec3d"/>
<polygon points="610.4,256.8 625.9,245.5 641.8,239.6 626.3,251.0" fill="#ffe442"/>
<polygon points="594.8,268.1 610.4,256.8 626.3,251.0 610.7,262.4" fill="#ffd947"/>
<polygon points="579.2,279.3 594.8,268.1 610.7,262.4 595.1,273.8" fill="#ffd83e"/>
<polygon points="563.6,290.6 579.2,279.3 595.1,273.8 579.5,285.2" fill="#ffdb2f"/>
<polygon points="548.1,301.9 563.6,290.6 579.5,285.2 563.9,296.6" fill="#e4e031"/>
<polygon points="532.5,313.2 548.1,301.9 563.9,296.6 548.4,308.0" fill="#d5e338"/>
<polygon points="516.9,324.5 532.5,313.2 548.4,308.0 532.8,319.4" fill="#b5e74d"/>
<polygon points="501.3,335.8 516.9,324.5 532.8,319.4 517.2,330.8" fill="#94ea66"/>
<polygon points="485.7,347.0 501.3,335.8 517.2,330.8 501.6,342.2" fill="#82ea72"/>
<polygon points="470.2,358.3 485.7,347.0 501.6,342.2 486.1,353.6" fill="#63e98c"/>
<polygon points="454.6,369.6 470.2,358.3 486.1,353.6 470.5,364.9" fill="#55e897"/>
<polygon points="439.0,380.9 454.6,369.6 470.5,364.9 454.9,376.3" fill="#3fe4ac"/>
<polygon points="423.4,392.2 439.0,380.9 454.9,376.3 439.3,387.7" fill="#32debe"/>
<polygon points="407.9,403.5 423.4,392.2 439.3,387.7 423.8,399.1" fill="#29dbc6"/>
<polygon points="392.3,414.7 407.9,403.5 423.8,399.1 408.2,410.5" fill="#0cd6d5"/>
<polygon points="376.7,426.0 392.3,414.7 408.2,410.5 392.6,421.9" fill="#01cfe4"/>
<polygon points="673.0,216.9 688.6,205.5 704.5,198.8 688.9,210.3" fill="#ffff20"/>
<polygon points="657.4,228.2 673.0,216.9 688.9,210.3 673.3,221.8" fill="#ffff2b"/>
<polygon points="641.8,239.6 657.4,228.2 673.3,221.8 657.7,233.3" fill="#ffff2f"/>
<polygon points="626.3,251.0 641.8,239.6 657.7,233.3 642.1,244.8" fill="#fffd35"/>
<polygon points="610.7,262.4 626.3,251.0 642.1,244.8 626.6,256.3" fill="#ffed3d"/>
<polygon points="595.1,273.8 610.7,262.4 626.6,256.3 611.0,267.8" fill="#ffe642"/>
<polygon points="579.5,285.2 595.1,273.8 611.0,267.8 595.4,279.3" fill="#ffda48"/>
<polygon points="563.9,296.6 579.5,285.2 595.4,279.3 579.8,290.8" fill="#ffda35"/>
<polygon points="548.4,308.0 563.9,296.6 579.8,290.8 564.3,302.3" fill="#ffdc2f"/>
<polygon points="532.8,319.4 548.4,308.0 564.3,302.3 548.7,313.8" fill="#e5e131"/>
<polygon points="517.2,330.8 532.8,319.4 548.7,313.8 533.1,325.3" fill="#c7e642"/>
<polygon points="501.6,342.2 517.2,330.8 533.1,325.3 517.5,336.8" fill="#b6e84d"/>
<polygon points="486.1,353.6 501.6,342.2 517.5,336.8 502.0,348.3" fill="#94eb66"/>
<polygon points="470.5,364.9 486.1,353.6 502.0,348.3 486.4,359.8" fill="#73eb80"/>
<polygon points="454.9,376.3 470.5,364.9 486.4,359.8 470.8,371.3" fill="#64ea8c"/>
<polygon points="439.3,387.7 454.9,376.3 470.8,371.3 455.2,382.8" fill="#48e7a3"/>
<polygon points="423.8,399.1 439.3,387.7 455.2,382.8 439.7,394.3" fill="#38e2b6"/>
<polygon points="408.2,410.5 423.8,399.1 439.7,394.3 424.1,405.8" fill="#32dfbe"/>
<polygon points="392.6,421.9 408.2,410.5 424.1,405.8 408.5,417.3" fill="#1cdacf"/>
</g>
<g stroke-linecap="square">
<line x1="80.60" y1="440.40" x2="80.60" y2="134.80" stroke="#222" stroke-width="1.5" />
<line x1="80.60" y1="440.40" x2="382.60" y2="580.50" stroke="#222" stroke-width="1.5" />
<line x1="382.60" y1="580.50" x2="775.10" y2="472.90" stroke="#222" stroke-width="1.5" />
</g>
<line x1="80.60" y1="440.40" x2="70.54" y2="435.80" stroke="#222" stroke-width="1.5" />
<line x1="80.60" y1="379.28" x2="70.54" y2="374.68" stroke="#222" stroke-width="1.5" />
<line x1="80.60" y1="318.16" x2="70.54" y2="313.56" stroke="#222" stroke-width="1.5" />
<line x1="80.60" y1="257.04" x2="70.54" y2="252.44" stroke="#222" stroke-width="1.5" />
<line x1="80.60" y1="195.92" x2="70.54" y2="191.32" stroke="#222" stroke-width="1.5" />
<line x1="80.60" y1="134.80" x2="70.54" y2="130.20" stroke="#222" stroke-width="1.5" />
<line x1="80.60" y1="440.40" x2="70.06" y2="443.61" stroke="#222" stroke-width="1.5" />
<line x1="181.27" y1="487.10" x2="170.73" y2="490.31" stroke="#222" stroke-width="1.5" />
<line x1="281.93" y1="533.80" x2="271.39" y2="537.01" stroke="#222" stroke-width="1.5" />
<line x1="382.60" y1="580.50" x2="372.06" y2="583.71" stroke="#222" stroke-width="1.5" />
<line x1="382.60" y1="580.50" x2="392.87" y2="585.74" stroke="#222" stroke-width="1.5" />
<line x1="480.73" y1="553.60" x2="491.00" y2="558.84" stroke="#222" stroke-width="1.5" />
<line x1="578.85" y1="526.70" x2="589.12" y2="531.94" stroke="#222" stroke-width="1.5" />
<line x1="676.98" y1="499.80" x2="687.25" y2="505.04" stroke="#222" stroke-width="1.5" />
<line x1="775.10" y1="472.90" x2="785.37" y2="478.14" stroke="#222" stroke-width="1.5" />
<defs><linearGradient id="cb" x1="0" y1="1" x2="0" y2="0">
<stop offset="0.0000" stop-color="#3e26a8"/>
<stop offset="0.0159" stop-color="#402ab4"/>
<stop offset="0.0317" stop-color="#422ec0"/>
<stop offset="0.0476" stop-color="#4332cb"/>
<stop offset="0.0635" stop-color="#4537d5"/>
<stop offset="0.0794" stop-color="#463cde"/>
<stop offset="0.0952" stop-color="#4741e5"/>
<stop offset="0.1111" stop-color="#4747eb"/>
<stop offset="0.1270" stop-color="#484df0"/>
<stop offset="0.1429" stop-color="#4852f4"/>
<stop offset="0.1587" stop-color="#4758f8"/>
<stop offset="0.1746" stop-color="#465efb"/>
<stop offset="0.1905" stop-color="#4563fd"/>
<stop offset="0.2063" stop-color="#4269fe"/>
<stop offset="0.2222" stop-color="#3e6fff"/>
<stop offset="0.2381" stop-color="#3875fe"/>
<stop offset="0.2540" stop-color="#327cfc"/>
<stop offset="0.2698" stop-color="#2f81fa"/>
<stop offset="0.2857" stop-color="#2e87f7"/>
<stop offset="0.3016" stop-color="#2d8cf3"/>
<stop offset="0.3175" stop-color="#2b91ef"/>
<stop offset="0.3333" stop-color="#2797eb"/>
<stop offset="0.3492" stop-color="#259be8"/>
<stop offset="0.3651" stop-color="#23a0e5"/>
<stop offset="0.3810" stop-color="#20a5e3"/>
<stop offset="0.3968" stop-color="#1ca9df"/>
<stop offset="0.4127" stop-color="#18addb"/>
<stop offset="0.4286" stop-color="#12b1d6"/>
<stop offset="0.4444" stop-color="#08b5d0"/>
<stop offset="0.4603" stop-color="#01b8ca"/>
<stop offset="0.4762" stop-color="#02bac3"/>
<stop offset="0.4921" stop-color="#0bbdbd"/>
<stop offset="0.5079" stop-color="#19bfb6"/>
<stop offset="0.5238" stop-color="#24c1ae"/>
<stop offset="0.5397" stop-color="#2cc4a7"/>
<stop offset="0.5556" stop-color="#31c69f"/>
<stop offset="0.5714" stop-color="#37c897"/>
<stop offset="0.5873" stop-color="#3fca8e"/>
<stop offset="0.6032" stop-color="#4acb84"/>
<stop offset="0.6190" stop-color="#57cc7a"/>
<stop offset="0.6349" stop-color="#64cd6f"/>
<stop offset="0.6508" stop-color="#72cd64"/>
<stop offset="0.6667" stop-color="#81cc59"/>
<stop offset="0.6825" stop-color="#8fcb4e"/>
<stop offset="0.6984" stop-color="#9dc943"/>
<stop offset="0.7143" stop-color="#abc739"/>
<stop offset="0.7302" stop-color="#b9c431"/>
<stop offset="0.7460" stop-color="#c5c22a"/>
<stop offset="0.7619" stop-color="#d1bf27"/>
<stop offset="0.7778" stop-color="#dcbd29"/>
<stop offset="0.7937" stop-color="#e6bb2d"/>
<stop offset="0.8095" stop-color="#f0ba36"/>
<stop offset="0.8254" stop-color="#f8ba3d"/>
<stop offset="0.8413" stop-color="#febe3c"/>
<stop offset="0.8571" stop-color="#fec338"/>
<stop offset="0.8730" stop-color="#fec934"/>
<stop offset="0.8889" stop-color="#fccf30"/>
<stop offset="0.9048" stop-color="#fad62d"/>
<stop offset="0.9206" stop-color="#f7dc2a"/>
<stop offset="0.9365" stop-color="#f5e327"/>
<stop offset="0.9524" stop-color="#f5e924"/>
<stop offset="0.9683" stop-color="#f6ef20"/>
<stop offset="0.9841" stop-color="#f7f51b"/>
<stop offset="1.0000" stop-color="#f9fb15"/>
</linearGradient></defs>
<rect x="854.7" y="27.3" width="41.0" height="553.4" fill="url(#cb)" stroke="#222" stroke-width="1.3"/>
<line x1="889.70" y1="534.14" x2="895.70" y2="534.14" stroke="#222" stroke-width="1.3" />
<line x1="889.70" y1="485.89" x2="895.70" y2="485.89" stroke="#222" stroke-width="1.3" />
<line x1="889.70" y1="437.65" x2="895.70" y2="437.65" stroke="#222" stroke-width="1.3" />
<line x1="889.70" y1="389.40" x2="895.70" y2="389.40" stroke="#222" stroke-width="1.3" />
<line x1="889.70" y1="341.15" x2="895.70" y2="341.15" stroke="#222" stroke-width="1.3" />
<line x1="889.70" y1="292.90" x2="895.70" y2="292.90" stroke="#222" stroke-width="1.3" />
<line x1="889.70" y1="244.66" x2="895.70" y2="244.66" stroke="#222" stroke-width="1.3" />
<line x1="889.70" y1="196.41" x2="895.70" y2="196.41" stroke="#222" stroke-width="1.3" />
<line x1="889.70" y1="148.16" x2="895.70" y2="148.16" stroke="#222" stroke-width="1.3" />
<line x1="889.70" y1="99.91" x2="895.70" y2="99.91" stroke="#222" stroke-width="1.3" />
<line x1="889.70" y1="51.67" x2="895.70" y2="51.67" stroke="#222" stroke-width="1.3" />
<g font-family="Liberation Sans, sans-serif" font-size="21" fill="#262626">
<text x="65.7" y="443.3" text-anchor="end">395</text>
<text x="65.7" y="382.2" text-anchor="end">400</text>
<text x="65.7" y="321.1" text-anchor="end">405</text>
<text x="65.7" y="259.9" text-anchor="end">410</text>
<text x="65.7" y="198.8" text-anchor="end">415</text>
<text x="65.7" y="137.7" text-anchor="end">420</text>
<text x="65.3" y="465.3" text-anchor="end">0.6</text>
<text x="166.0" y="512.0" text-anchor="end">0.5</text>
<text x="266.7" y="558.7" text-anchor="end">0.4</text>
<text x="367.4" y="605.4" text-anchor="end">0.3</text>
<text x="396.2" y="607.7" text-anchor="start">50</text>
<text x="494.3" y="580.8" text-anchor="start">100</text>
<text x="592.5" y="553.9" text-anchor="start">150</text>
<text x="690.6" y="527.0" text-anchor="start">200</text>
<text x="788.7" y="500.1" text-anchor="start">250</text>
<text x="905.5" y="541.6" text-anchor="start">398</text>
<text x="905.5" y="493.4" text-anchor="start">400</text>
<text x="905.5" y="445.1" text-anchor="start">402</text>
<text x="905.5" y="396.9" text-anchor="start">404</text>
<text x="905.5" y="348.7" text-anchor="start">406</text>
<text x="905.5" y="300.4" text-anchor="start">408</text>
<text x="905.5" y="252.2" text-anchor="start">410</text>
<text x="905.5" y="203.9" text-anchor="start">412</text>
<text x="905.5" y="155.7" text-anchor="start">414</text>
<text x="905.5" y="107.4" text-anchor="start">416</text>
<text x="905.5" y="59.2" text-anchor="start">418</text>
</g>
<g font-family="Liberation Sans, sans-serif" font-size="23.3" letter-spacing="0.25" fill="#111">
<text x="427.5" y="19.3" text-anchor="middle" fill="#000">Effect of cutting dosage on ferrite microhardness</text>
<text x="156" y="606.2" text-anchor="middle" letter-spacing="0.36">Feed rate(mm/r)</text>
<text x="579" y="631" text-anchor="middle">Cutting speed (m/min)</text>
<text transform="translate(20.5,287) rotate(-90)" text-anchor="middle">Microhardness of ferrite (HV)</text>
</g>
</svg>
</body></html>
